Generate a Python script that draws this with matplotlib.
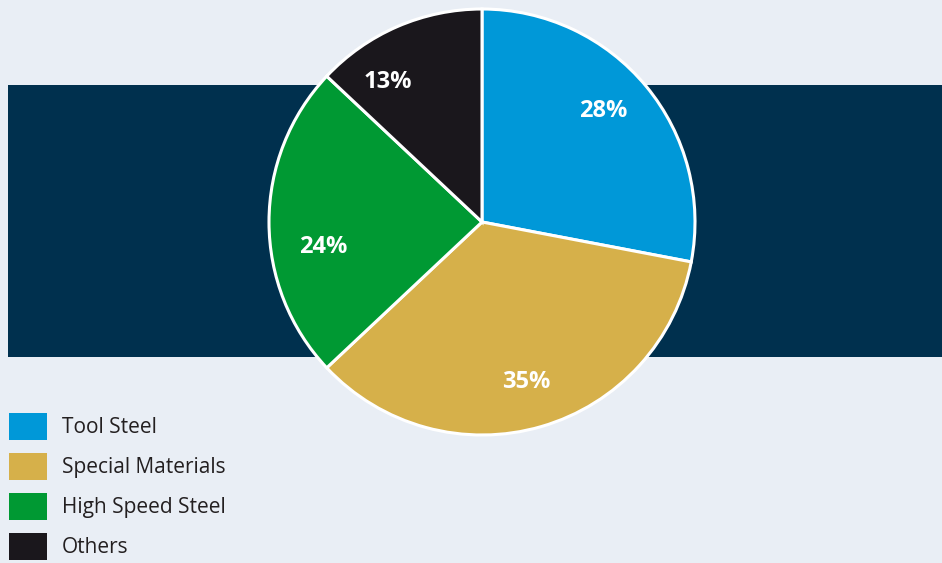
import matplotlib.pyplot as plt
from matplotlib.patches import Rectangle

# data
categories = ["Tool Steel", "Special Materials", "High Speed Steel", "Others"]
shares = [28, 35, 24, 13]
colors = ["#0098d8", "#d6b04a", "#009933", "#1a171c"]

W, H = 942, 563
# label spots in picture pixels (x, y from top)
label_pos = [(603, 111), (526, 382), (323, 247), (388, 82)]

plt.rcParams['font.family'] = ['Open Sans', 'DejaVu Sans']

fig = plt.figure(figsize=(W / 100, H / 100), dpi=100)
fig.patch.set_facecolor("#e9eef5")
ax = fig.add_axes([0, 0, 1, 1])

# dark band behind the pie
ax.add_patch(Rectangle((8, H - 357), W - 8, 272, facecolor="#00304e", edgecolor="none", zorder=1))

wedges, texts, autotexts = ax.pie(
    shares, colors=colors, startangle=90, counterclock=False,
    center=(482, H - 222), radius=213, autopct="%d%%", pctdistance=0.76,
    wedgeprops=dict(edgecolor="white", linewidth=2.2, zorder=2),
    textprops=dict(color="white", fontsize=17, fontweight="bold"),
    frame=True,
)
ax.set_xlim(0, W)
ax.set_ylim(0, H)
ax.set_aspect("equal")
ax.axis("off")
for t, (px, py) in zip(autotexts, label_pos):
    t.set_position((px, H - py))
    t.set_zorder(3)

leg = ax.legend(wedges, categories, loc="upper left", bbox_to_anchor=(9 / W, 1 - 413 / H),
                frameon=False, fontsize=15,
                handlelength=1.824, handleheight=1.617,
                labelspacing=0.624, handletextpad=0.72, borderpad=0, borderaxespad=0)
for t in leg.get_texts():
    t.set_color("#231f20")
for h in leg.legend_handles:
    h.set_edgecolor("none")

fig.savefig("out.png", dpi=100, facecolor=fig.get_facecolor())
